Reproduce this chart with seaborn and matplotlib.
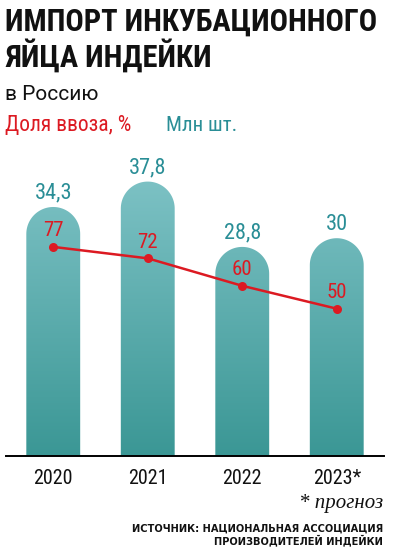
import numpy as np
import pandas as pd
import matplotlib
matplotlib.use("Agg")
import matplotlib.pyplot as plt
from matplotlib.path import Path
from matplotlib.transforms import IdentityTransform
from matplotlib.colors import LinearSegmentedColormap
import seaborn as sns

years = ["2020", "2021", "2022", "2023*"]
volume = [34.3, 37.8, 28.8, 30.0]          # млн шт.
volume_labels = ["34,3", "37,8", "28,8", "30"]
share = [77, 72, 60, 50]                    # доля ввоза, %

TEAL_TXT = "#2a8e96"
RED = "#dc1a22"
NARROW = ["Roboto Condensed", "Liberation Sans Narrow", "Liberation Sans", "DejaVu Sans"]

sns.set_theme(style="white")
plt.rcParams["font.family"] = NARROW

W, H = 395, 559
fig = plt.figure(figsize=(W / 100, H / 100), dpi=100)

def fx(px):
    return px / W

def fy(py):
    return 1 - py / H

ax_top_px, ax_bot_px, ax_l_px, ax_r_px = 140, 456, 6, 384
ax = fig.add_axes([fx(ax_l_px), fy(ax_bot_px), fx(ax_r_px - ax_l_px), (ax_bot_px - ax_top_px) / H])
ax.patch.set_alpha(0)

df = pd.DataFrame({"year": years, "volume": volume, "share": share})
sns.barplot(data=df, x="year", y="volume", ax=ax, width=0.57, color="#5aaeb0",
            saturation=1, errorbar=None)

ymax = (ax_bot_px - ax_top_px) / 7.26
ax.set_xlim(-0.5, 3.5)
ax.set_ylim(0, ymax)

for s in ["left", "right", "top"]:
    ax.spines[s].set_visible(False)
ax.spines["bottom"].set_color("black")
ax.spines["bottom"].set_linewidth(1.4)
ax.set_yticks([])
ax.set_xlabel("")
ax.set_ylabel("")
ax.set_xticks(range(len(years)))
ax.set_xticklabels(years, fontsize=14.5, color="#111111")
ax.tick_params(axis="x", which="major", length=0, pad=9)
ax.set_xticks(np.arange(-0.5, len(years), 1.0), minor=True)
ax.tick_params(axis="x", which="minor", length=6, width=1.4, color="black", direction="out")

# Rounded-top gradient bars built from seaborn's bar patches
fig.canvas.draw()
renderer = fig.canvas.get_renderer()
verts, codes = [], []
for p in ax.patches:
    bb = p.get_window_extent(renderer)
    x0, x1, y0, y1 = bb.x0, bb.x1, bb.y0, bb.y1
    r = (x1 - x0) / 2
    cx, cy = (x0 + x1) / 2, y1 - r
    pts = [(x0, y0), (x1, y0), (x1, cy)]
    for a in np.linspace(0, np.pi, 60):
        pts.append((cx + r * np.cos(a), cy + r * np.sin(a)))
    pts.append((x0, y0))
    verts += pts
    codes += [Path.MOVETO] + [Path.LINETO] * (len(pts) - 2) + [Path.CLOSEPOLY]
    p.set_visible(False)
clip = Path(verts, codes)

cmap = LinearSegmentedColormap.from_list("tealgrad", ["#3b9795", "#7cc1c4"])
grad = np.linspace(0, 1, 256).reshape(-1, 1)
im = ax.imshow(grad, extent=(-0.5, 3.5, 0, max(volume)), aspect="auto", origin="lower",
               cmap=cmap, zorder=1)
im.set_clip_path(clip, transform=IdentityTransform())
ax.set_xlim(-0.5, 3.5)
ax.set_ylim(0, ymax)

for i, (v, lab) in enumerate(zip(volume, volume_labels)):
    ax.annotate(lab, (i, v), xytext=(0, 6), textcoords="offset points",
                ha="center", va="baseline", fontsize=16, color=TEAL_TXT, zorder=5)

ax2 = ax.twinx()
ax2.patch.set_alpha(0)
sns.lineplot(data=df, x="year", y="share", ax=ax2, color=RED, linewidth=1.8,
             marker="o", markersize=6.5, markeredgewidth=0, sort=False, zorder=4)
ppu = 2.89
zero_px = 497.5
ax2.set_ylim(-(zero_px - ax_bot_px) / ppu, (zero_px - ax_top_px) / ppu)
ax2.set_xlim(-0.5, 3.5)
ax2.set_yticks([])
ax2.set_ylabel("")
ax2.set_xlabel("")
for s in ax2.spines.values():
    s.set_visible(False)
for i, v in enumerate(share):
    ax2.annotate(str(v), (i, v), xytext=(0, 7.5), textcoords="offset points",
                 ha="center", va="baseline", fontsize=15, color=RED, zorder=5)

fig.text(fx(5), fy(31), "ИМПОРТ ИНКУБАЦИОННОГО", fontsize=22, fontweight="bold",
         color="#111111", va="baseline", ha="left")
fig.text(fx(5), fy(67), "ЯЙЦА ИНДЕЙКИ", fontsize=22, fontweight="bold",
         color="#111111", va="baseline", ha="left")
fig.text(fx(5), fy(100), "в Россию", fontsize=15, color="#111111", va="baseline", ha="left",
         family=["Roboto", "DejaVu Sans"])
fig.text(fx(5), fy(131), "Доля ввоза, %", fontsize=15.5, color=RED, va="baseline", ha="left")
fig.text(fx(166), fy(131), "Млн шт.", fontsize=15, color=TEAL_TXT, va="baseline", ha="left")

fig.text(fx(383), fy(508), "* прогноз", fontsize=15, style="italic",
         family=["Liberation Serif", "DejaVu Serif"], color="#111111", va="baseline", ha="right")
fig.text(fx(383), fy(532), "ИСТОЧНИК: НАЦИОНАЛЬНАЯ АССОЦИАЦИЯ", fontsize=7.1, fontweight="bold",
         family=["DejaVu Sans"], color="#111111", va="baseline", ha="right")
fig.text(fx(383), fy(544), "ПРОИЗВОДИТЕЛЕЙ ИНДЕЙКИ", fontsize=7.1, fontweight="bold",
         family=["DejaVu Sans"], color="#111111", va="baseline", ha="right")

fig.savefig("out.png", dpi=100)
